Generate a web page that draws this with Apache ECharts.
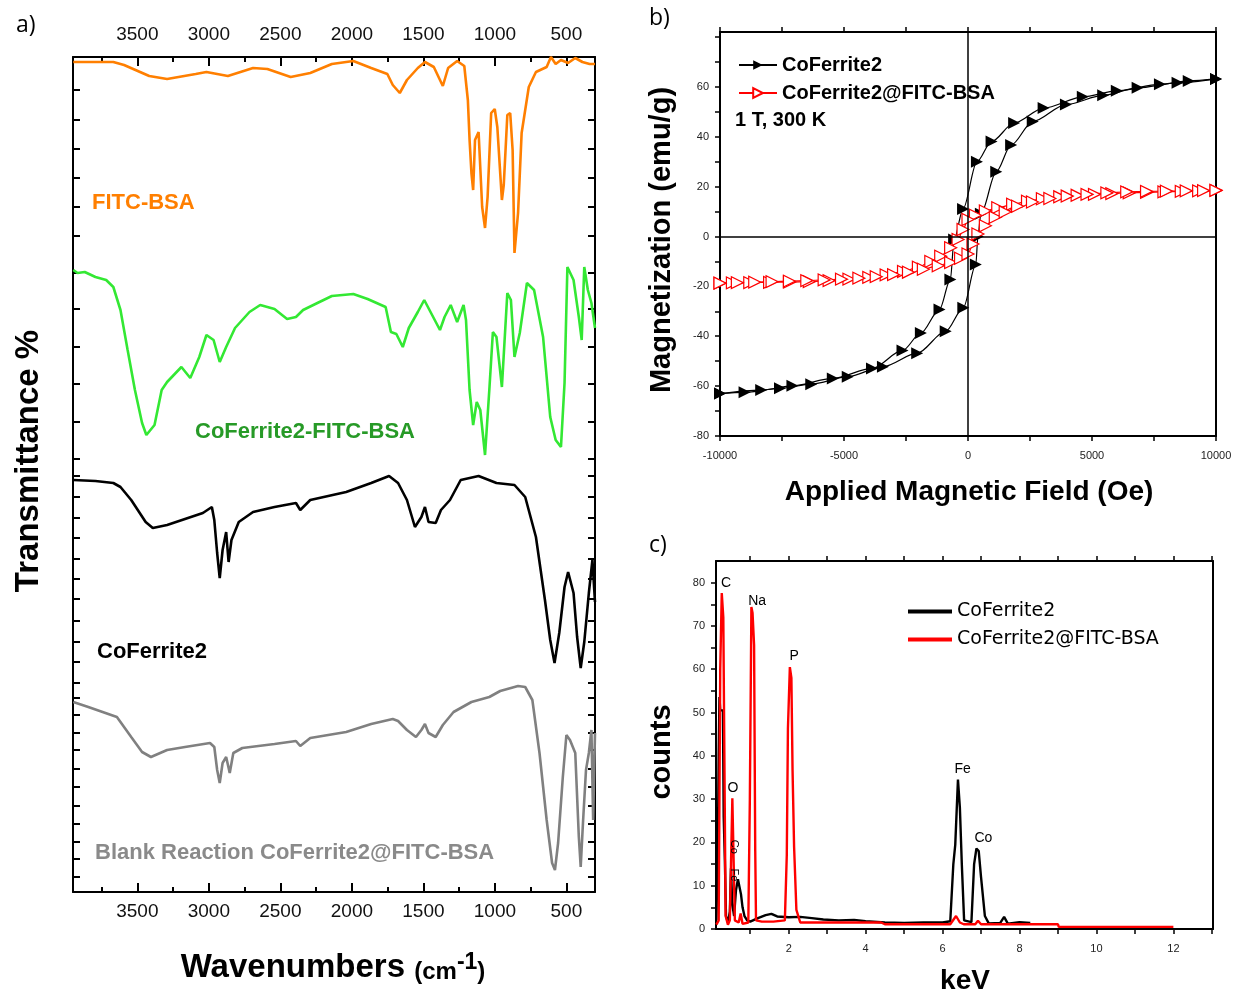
<!DOCTYPE html>
<html>
<head>
<meta charset="utf-8">
<script src="https://cdn.jsdelivr.net/npm/echarts@6/dist/echarts.min.js"></script>
<style>
  html, body { margin: 0; background: #fff; }
  #chart { width: 1236px; height: 993px; }
</style>
</head>
<body>
<div id="chart"></div>
<script>
// ---- a) FTIR spectra (wavenumber, transmittance in arbitrary offset units) ----
var irMajor = [3500, 3000, 2500, 2000, 1500, 1000, 500];
var irMinor = [3750, 3250, 2750, 2250, 1750, 1250, 750];
var irYTicks = [15, 33, 50, 68, 86, 105, 123, 142, 159, 177, 194, 209, 230, 250, 271, 293, 313, 333, 354, 374, 395, 416, 433, 470, 508, 545, 583, 619, 656, 685, 714, 743, 772, 802];

var fitcWn = [3948, 3668, 3593, 3417, 3292, 3092, 3017, 2867, 2691, 2591, 2428, 2291, 2140, 1990, 1865, 1752, 1714, 1665, 1615, 1539, 1489, 1427, 1364, 1327, 1264, 1214, 1189, 1177, 1164, 1152, 1139, 1114, 1089, 1069, 1051, 1026, 1001, 983, 951, 938, 913, 893, 876, 863, 838, 813, 763, 713, 638, 608, 575, 538, 488, 438, 388, 338, 300];
var fitcT = [830, 830, 827, 816, 813, 818, 820, 816, 824, 823, 815, 819, 828, 831, 824, 818, 807, 799, 812, 824, 830, 825, 806, 824, 831, 826, 792, 752, 719, 702, 752, 760, 685, 664, 695, 779, 783, 765, 692, 707, 777, 779, 742, 639, 679, 759, 805, 820, 825, 835, 828, 832, 829, 834, 830, 828, 828];

var conjWn = [3948, 3918, 3868, 3793, 3718, 3668, 3618, 3568, 3517, 3467, 3437, 3380, 3330, 3292, 3192, 3130, 3067, 3017, 2967, 2924, 2879, 2817, 2716, 2641, 2541, 2453, 2391, 2341, 2241, 2140, 1990, 1890, 1764, 1727, 1689, 1644, 1602, 1539, 1494, 1439, 1384, 1352, 1309, 1264, 1219, 1202, 1177, 1152, 1127, 1102, 1069, 1039, 1014, 989, 951, 913, 888, 863, 826, 776, 726, 663, 613, 575, 538, 513, 493, 450, 413, 393, 375, 350, 325, 300];
var conjT = [622, 619, 620, 615, 612, 605, 582, 542, 502, 469, 457, 467, 502, 510, 525, 514, 535, 557, 552, 530, 545, 564, 580, 587, 583, 573, 575, 582, 589, 596, 598, 593, 585, 560, 558, 545, 564, 580, 592, 577, 562, 575, 587, 570, 587, 572, 502, 467, 490, 482, 437, 502, 560, 555, 505, 599, 592, 535, 559, 609, 602, 555, 475, 452, 445, 509, 625, 612, 575, 552, 625, 602, 589, 564];

var ferWn = [3948, 3793, 3668, 3618, 3543, 3442, 3392, 3292, 3167, 3042, 2979, 2962, 2942, 2924, 2904, 2879, 2862, 2842, 2791, 2691, 2541, 2391, 2361, 2291, 2040, 1865, 1740, 1677, 1615, 1559, 1514, 1489, 1464, 1414, 1377, 1314, 1239, 1114, 989, 863, 788, 713, 650, 613, 583, 550, 513, 488, 450, 425, 400, 375, 343, 318, 300];
var ferT = [412, 411, 409, 405, 392, 370, 364, 367, 373, 379, 385, 372, 339, 314, 342, 360, 330, 352, 370, 380, 385, 389, 382, 392, 400, 409, 416, 409, 392, 365, 375, 385, 370, 369, 382, 392, 412, 416, 409, 407, 395, 355, 292, 252, 229, 259, 305, 320, 299, 255, 224, 250, 299, 332, 290];

var blankWn = [3948, 3843, 3643, 3543, 3467, 3405, 3292, 3167, 2992, 2962, 2942, 2924, 2904, 2879, 2854, 2829, 2766, 2541, 2391, 2361, 2291, 2040, 1865, 1714, 1677, 1615, 1552, 1514, 1489, 1464, 1414, 1364, 1289, 1164, 1039, 963, 838, 788, 738, 688, 638, 600, 580, 558, 525, 500, 475, 438, 413, 400, 383, 363, 343, 325, 313, 300];
var blankT = [190, 185, 175, 155, 140, 135, 142, 145, 149, 145, 122, 109, 129, 135, 119, 139, 144, 148, 151, 146, 154, 160, 168, 173, 171, 162, 155, 162, 168, 159, 155, 167, 180, 190, 195, 201, 206, 205, 192, 139, 72, 29, 22, 49, 115, 157, 152, 139, 55, 25, 72, 122, 139, 162, 72, 159];

// ---- b) hysteresis loops (Oe, emu/g) ----
var magXTicks = [-10000, -7500, -5000, -2500, 0, 2500, 5000, 7500, 10000];
var magXLabels = [-10000, -5000, 0, 5000, 10000];
var magYTicks = [-80, -70, -60, -50, -40, -30, -20, -10, 0, 10, 20, 30, 40, 50, 60, 70, 80];
var magYLabels = [-80, -60, -40, -20, 0, 20, 40, 60];

var ferDownH = [10000, 8900, 7740, 6000, 4630, 3050, 1860, 950, 360, -200, -560, -710, -1150, -1900, -2640, -3870, -5450, -7080, -8340, -10000];
var ferDownM = [63.2, 62.4, 61.0, 58.4, 56.0, 51.5, 45.5, 38.1, 30.0, 11.0, -1.2, -17.2, -29.3, -38.7, -45.7, -52.9, -56.9, -59.9, -61.6, -63.0];
var ferUpH = [-10000, -9010, -7580, -6320, -4850, -3430, -2050, -900, -190, 316, 400, 520, 1140, 1740, 2610, 3950, 5450, 6840, 8450, 10000];
var ferUpM = [-63.0, -62.5, -60.9, -59.2, -56.2, -52.2, -46.8, -38.0, -28.6, -11.2, 0.0, 9.1, 26.0, 36.7, 46.1, 52.9, 56.6, 59.6, 61.6, 63.2];

var bsaDownH = [10000, 9300, 8600, 7900, 7200, 6500, 5800, 5100, 4400, 3700, 3000, 2400, 1800, 1200, 700, 300, 0, -200, -400, -700, -1100, -1500, -2000, -2600, -3300, -4000, -4800, -5600, -6400, -7200, -8000, -8800, -9500, -10000];
var bsaDownM = [18.5, 18.3, 18.1, 17.9, 17.7, 17.5, 17.2, 16.9, 16.5, 15.9, 15.1, 14.1, 12.9, 11.5, 10.2, 8.5, 6.8, 2.8, -1.2, -4.5, -7.9, -10.0, -12.3, -14.0, -15.4, -16.4, -17.1, -17.7, -18.1, -18.3, -18.4, -18.5, -18.6, -18.7];
var bsaUpH = [-10000, -9300, -8600, -7900, -7200, -6500, -5800, -5100, -4400, -3700, -3000, -2400, -1800, -1200, -700, -300, 0, 200, 400, 700, 1100, 1500, 2000, 2600, 3300, 4000, 4800, 5600, 6400, 7200, 8000, 8800, 9500, 10000];
var bsaUpM = [-18.7, -18.5, -18.3, -18.1, -17.9, -17.7, -17.4, -17.1, -16.7, -16.1, -15.3, -14.3, -13.1, -11.7, -10.4, -8.7, -7.0, -3.0, 1.0, 4.3, 7.7, 9.8, 12.1, 13.8, 15.2, 16.2, 16.9, 17.5, 17.9, 18.1, 18.2, 18.3, 18.4, 18.5];

// ---- c) EDS spectra (keV, counts) ----
var edsXTicks = [1, 2, 3, 4, 5, 6, 7, 8, 9, 10, 11, 12, 13];
var edsXLabels = [2, 4, 6, 8, 10, 12];
var edsYTicks = [0, 5, 10, 15, 20, 25, 30, 35, 40, 45, 50, 55, 60, 65, 70, 75, 80];
var edsYLabels = [0, 10, 20, 30, 40, 50, 60, 70, 80];

var edsFerKeV = [0.12, 0.16, 0.18, 0.2, 0.22, 0.29, 0.31, 0.34, 0.37, 0.42, 0.47, 0.5, 0.53, 0.58, 0.63, 0.68, 0.72, 0.76, 0.8, 0.85, 0.92, 1.0, 1.2, 1.4, 1.55, 1.7, 2.0, 2.3, 2.6, 2.9, 3.3, 3.7, 4.0, 4.5, 5.0, 5.5, 6.0, 6.2, 6.28, 6.33, 6.4, 6.45, 6.5, 6.56, 6.75, 6.82, 6.88, 6.94, 7.0, 7.1, 7.2, 7.5, 7.6, 7.7, 8.0, 8.28];
var edsFerCounts = [2, 20, 40, 53.6, 50.5, 50.5, 26, 16, 3, 1.5, 4, 14, 6, 3, 9, 11.5, 11.8, 8, 5, 3, 2, 1.7, 2.5, 3.2, 3.5, 2.9, 2.7, 2.8, 2.5, 2.2, 2.0, 2.1, 1.8, 1.5, 1.4, 1.5, 1.5, 1.8, 15, 19.5, 34.5, 28, 15, 2, 1.6, 15, 18.6, 18, 12, 3, 1.3, 1.4, 2.8, 1.2, 1.6, 1.4];
var edsBsaKeV = [0.12, 0.18, 0.22, 0.26, 0.3, 0.34, 0.36, 0.42, 0.47, 0.5, 0.535, 0.57, 0.6, 0.7, 0.75, 0.8, 0.95, 0.99, 1.03, 1.06, 1.1, 1.13, 1.15, 1.3, 1.6, 1.9, 1.95, 1.98, 2.03, 2.07, 2.1, 2.14, 2.2, 2.3, 3.0, 4.4, 4.5, 6.2, 6.35, 6.45, 6.55, 6.85, 6.92, 7.0, 9.0, 9.02, 12.0];
var edsBsaCounts = [1, 2, 60, 77.6, 72, 71.8, 3, 1, 2, 15, 30.2, 15, 2, 1.5, 3.6, 1.2, 1.5, 30, 74.4, 73, 65.6, 18, 2, 1.7, 1.7, 2, 17, 46.4, 60.5, 58, 36.7, 19, 4.4, 1.5, 1.5, 1.5, 1.1, 1.1, 3, 1.5, 1.1, 1.1, 1.9, 1.1, 1.1, 0.5, 0.5];

var edsPeakNames = ['C', 'Na', 'P', 'O', 'Fe', 'Co'];
var edsPeakKeV = [0.37, 1.18, 2.14, 0.55, 6.52, 7.06];
var edsPeakCounts = [80, 75.7, 63, 32.6, 37, 21];
var edsSmallNames = ['Co', 'Fe'];
var edsSmallKeV = [0.58, 0.58];
var edsSmallCounts = [19, 12.5];

function zip(xs, ys) {
  return xs.map(function (x, i) { return [x, ys[i]]; });
}

var ARIAL = 'Liberation Sans, Arial, sans-serif';
var plain = function (v) { return String(v); };
var myChart = echarts.init(document.getElementById('chart'));

var blackAxis = { color: '#000', width: 2 };

function irAxis(pos, major, showLabel) {
  return {
    type: 'value', gridIndex: 0, position: pos, inverse: true, min: 300, max: 3950,
    axisLine: { show: major, onZero: false, lineStyle: blackAxis },
    axisTick: { show: true, inside: true, length: major ? 9 : 5, lineStyle: { color: '#000', width: 2 },
      customValues: major ? irMajor : irMinor },
    axisLabel: { show: showLabel, customValues: irMajor, margin: pos === 'top' ? 13 : 10, formatter: plain,
      fontFamily: ARIAL, fontSize: 19, color: '#111' },
    splitLine: { show: false }
  };
}

function outAxis(grid, pos, min, max, ticks, labels) {
  return {
    type: 'value', gridIndex: grid, position: pos, min: min, max: max,
    axisLine: { onZero: false, lineStyle: blackAxis },
    axisTick: { show: !!ticks, inside: false, length: 5, customValues: ticks || [], lineStyle: { color: '#000', width: 1.5 } },
    axisLabel: { show: !!labels, customValues: labels || [], formatter: plain,
      margin: (pos === 'bottom') ? 14 : 11, fontFamily: ARIAL, fontSize: 11, color: '#222' },
    splitLine: { show: false }
  };
}

function irSeries(name, xs, ys, color) {
  return {
    name: name, type: 'line', xAxisIndex: 0, yAxisIndex: 0,
    data: zip(xs, ys), symbol: 'none', smooth: false,
    lineStyle: { color: color, width: 2.6 }, silent: true
  };
}

function magSeries(name, xs, ys, open) {
  return {
    name: name, type: 'line', xAxisIndex: 4, yAxisIndex: 2,
    data: zip(xs, ys), smooth: 0.3, smoothMonotone: 'x',
    symbol: 'triangle', symbolRotate: -90, symbolSize: 12,
    lineStyle: { color: open ? '#ff0000' : '#000', width: 1.2 },
    itemStyle: open ? { color: '#fff', borderColor: '#ff0000', borderWidth: 1.2 }
                    : { color: '#000', borderColor: '#000', borderWidth: 0 },
    silent: true
  };
}

function edsSeries(name, xs, ys, color) {
  return {
    name: name, type: 'line', xAxisIndex: 6, yAxisIndex: 4,
    data: zip(xs, ys), symbol: 'none',
    lineStyle: { color: color, width: 2.4 }, itemStyle: { color: color }, silent: true
  };
}

function labelSeries(names, xs, ys, size, rotate) {
  return {
    type: 'scatter', xAxisIndex: 6, yAxisIndex: 4, symbol: 'circle', symbolSize: 1, silent: true,
    itemStyle: { color: 'rgba(0,0,0,0)', opacity: 1 },
    data: names.map(function (n, i) { return { name: n, value: [xs[i], ys[i]] }; }),
    label: { show: true, position: 'inside', formatter: '{b}', rotate: rotate, opacity: 1,
      textBorderWidth: 0, fontFamily: ARIAL, fontSize: size, color: '#000' },
    z: 5
  };
}

var titleFont = function (size) { return 'bold ' + size + 'px ' + ARIAL; };

var option = {
  animation: false,
  backgroundColor: '#fff',
  grid: [
    { left: 73, top: 57, width: 522, height: 835 },
    { left: 720, top: 32, width: 496, height: 404 },
    { left: 716, top: 561, width: 497, height: 368 }
  ],
  xAxis: [
    irAxis('bottom', true, true),
    irAxis('bottom', false, false),
    irAxis('top', true, true),
    irAxis('top', false, false),
    outAxis(1, 'bottom', -10000, 10000, magXTicks, magXLabels),
    outAxis(1, 'top', -10000, 10000, magXTicks, null),
    outAxis(2, 'bottom', 0.11, 13.03, edsXTicks, edsXLabels),
    outAxis(2, 'top', 0.11, 13.03, edsXTicks, null)
  ],
  yAxis: [
    {
      type: 'value', gridIndex: 0, position: 'left', min: 0, max: 835,
      axisLine: { onZero: false, lineStyle: blackAxis },
      axisTick: { inside: true, length: 7, customValues: irYTicks, lineStyle: { color: '#000', width: 2 } },
      axisLabel: { show: false }, splitLine: { show: false }
    },
    {
      type: 'value', gridIndex: 0, position: 'right', min: 0, max: 835,
      axisLine: { onZero: false, lineStyle: blackAxis },
      axisTick: { inside: true, length: 7, customValues: irYTicks, lineStyle: { color: '#000', width: 2 } },
      axisLabel: { show: false }, splitLine: { show: false }
    },
    outAxis(1, 'left', -80, 82, magYTicks, magYLabels),
    outAxis(1, 'right', -80, 82, null, null),
    outAxis(2, 'left', 0, 85, edsYTicks, edsYLabels),
    outAxis(2, 'right', 0, 85, null, null)
  ],
  legend: [
    {
      data: ['b|CoFerrite2', 'b|CoFerrite2@FITC-BSA'],
      orient: 'vertical', left: 733, top: 50, itemWidth: 38, itemHeight: 12, itemGap: 8,
      formatter: function (n) { return n.split('|')[1]; },
      textStyle: { fontFamily: ARIAL, fontWeight: 'bold', fontSize: 20, color: '#000' },
      selectedMode: false
    },
    {
      data: ['c|CoFerrite2', 'c|CoFerrite2@FITC-BSA'],
      orient: 'vertical', left: 903, top: 597, itemWidth: 44, itemHeight: 4, itemGap: 9,
      icon: 'rect',
      formatter: function (n) { return n.split('|')[1]; },
      textStyle: { fontFamily: 'DejaVu Sans, sans-serif', fontSize: 19, color: '#000' },
      selectedMode: false
    }
  ],
  graphic: [
    { type: 'text', left: 16, top: 14, style: { text: 'a)', font: '23px Open Sans, sans-serif', fill: '#000' } },
    { type: 'text', left: 649, top: 7, style: { text: 'b)', font: '23px Open Sans, sans-serif', fill: '#000' } },
    { type: 'text', left: 649, top: 534, style: { text: 'c)', font: '23px Open Sans, sans-serif', fill: '#000' } },
    { type: 'text', x: 29, y: 461, rotation: Math.PI / 2,
      style: { text: 'Transmittance %', font: titleFont(33), fill: '#000', textAlign: 'center', textVerticalAlign: 'middle' } },
    { type: 'text', x: 333, y: 968,
      style: {
        text: '{a|Wavenumbers }{b|(cm}{c|-1}{b|)}', textAlign: 'center', textVerticalAlign: 'middle', fill: '#000',
        rich: {
          a: { fontFamily: ARIAL, fontWeight: 'bold', fontSize: 33, verticalAlign: 'bottom' },
          b: { fontFamily: ARIAL, fontWeight: 'bold', fontSize: 24, verticalAlign: 'bottom' },
          c: { fontFamily: ARIAL, fontWeight: 'bold', fontSize: 23, verticalAlign: 'top' }
        }
      } },
    { type: 'text', left: 92, top: 192, style: { text: 'FITC-BSA', font: titleFont(22), fill: '#ff7f00' } },
    { type: 'text', left: 195, top: 421, style: { text: 'CoFerrite2-FITC-BSA', font: titleFont(22), fill: '#279a27' } },
    { type: 'text', left: 97, top: 641, style: { text: 'CoFerrite2', font: titleFont(22), fill: '#000' } },
    { type: 'text', left: 95, top: 842, style: { text: 'Blank Reaction CoFerrite2@FITC-BSA', font: titleFont(22), fill: '#8a8a8a' } },
    { type: 'text', x: 662, y: 240, rotation: Math.PI / 2,
      style: { text: 'Magnetization (emu/g)', font: titleFont(29), fill: '#000', textAlign: 'center', textVerticalAlign: 'middle' } },
    { type: 'text', x: 969, y: 492,
      style: { text: 'Applied Magnetic Field (Oe)', font: titleFont(28), fill: '#000', textAlign: 'center', textVerticalAlign: 'middle' } },
    { type: 'text', left: 735, top: 110, style: { text: '1 T, 300 K', font: titleFont(20), fill: '#000' } },
    { type: 'text', x: 662, y: 752, rotation: Math.PI / 2,
      style: { text: 'counts', font: titleFont(29), fill: '#000', textAlign: 'center', textVerticalAlign: 'middle' } },
    { type: 'text', x: 965, y: 981,
      style: { text: 'keV', font: titleFont(28), fill: '#000', textAlign: 'center', textVerticalAlign: 'middle' } }
  ],
  series: [
    irSeries('FITC-BSA', fitcWn, fitcT, '#ff7f00'),
    irSeries('CoFerrite2-FITC-BSA', conjWn, conjT, '#33e833'),
    irSeries('CoFerrite2', ferWn, ferT, '#000000'),
    irSeries('Blank Reaction', blankWn, blankT, '#808080'),
    Object.assign(magSeries('b|CoFerrite2', ferDownH, ferDownM, false), {
      markLine: {
        silent: true, symbol: ['none', 'none'], label: { show: false },
        lineStyle: { color: '#000', width: 1.5, type: 'solid' },
        data: [{ yAxis: 0 }, { xAxis: 0 }]
      }
    }),
    magSeries('b|CoFerrite2', ferUpH, ferUpM, false),
    magSeries('b|CoFerrite2@FITC-BSA', bsaDownH, bsaDownM, true),
    magSeries('b|CoFerrite2@FITC-BSA', bsaUpH, bsaUpM, true),
    edsSeries('c|CoFerrite2', edsFerKeV, edsFerCounts, '#000000'),
    edsSeries('c|CoFerrite2@FITC-BSA', edsBsaKeV, edsBsaCounts, '#ff0000'),
    labelSeries(edsPeakNames, edsPeakKeV, edsPeakCounts, 14, 0),
    labelSeries(edsSmallNames, edsSmallKeV, edsSmallCounts, 11, -90)
  ]
};

myChart.setOption(option);
</script>
</body>
</html>
